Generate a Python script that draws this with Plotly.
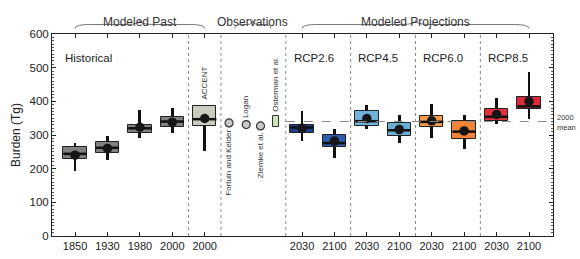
import plotly.graph_objects as go

# ---------------- data ----------------
positions = [1, 2, 3, 4, 5, 8, 9, 10, 11, 12, 13, 14, 15]
tick_labels = ["1850", "1930", "1980", "2000", "2000",
               "2030", "2100", "2030", "2100", "2030", "2100", "2030", "2100"]
q1 =     [228, 246, 306, 324, 326, 307, 265, 327, 296, 324, 287, 341, 376]
median = [244, 262, 320, 340, 347, 322, 276, 341, 314, 339, 310, 354, 385]
q3 =     [263, 279, 330, 353, 385, 331, 300, 370, 336, 356, 341, 378, 413]
low =    [193, 225, 292, 306, 253, 282, 233, 317, 277, 292, 257, 334, 349]
high =   [276, 298, 373, 380, 385, 371, 319, 390, 358, 393, 358, 411, 487]
mean =   [240, 260, 323, 338, 349, 320, 282, 349, 316, 342, 312, 361, 400]
box_colors = ["#808080", "#808080", "#808080", "#808080", "#c9cdbf",
              "#1f3f8e", "#2c5eab", "#70b4dc", "#6aaed6",
              "#f39a4c", "#f5843b", "#e3303c", "#de2a3c"]

obs_names = ["Fortuin and Kelder", "Logan", "Ziemke et al."]
obs_x = [5.75, 6.28, 6.72]
obs_val = [336, 331, 327]
obs_label_side = ["below", "above", "below"]
osterman_name = "Osterman et al."
osterman_x = 7.2
osterman_low = 324
osterman_high = 356

mean_2000 = 340

sections = ["Historical", "RCP2.6", "RCP4.5", "RCP6.0", "RCP8.5"]
section_x = [0.63, 7.68, 9.68, 11.68, 13.68]
separators = [4.5, 5.5, 7.5, 9.5, 11.5, 13.5]
groups = ["Modeled Past", "Observations", "Modeled Projections"]
group_span = [(1, 5), (5.93, 7.04), (8, 15)]

FONT = "Liberation Sans, Arial, sans-serif"
XR = [0.29, 15.74]

fig = go.Figure()

# whiskers (as thin bars so they sit behind the boxes)
fig.add_trace(go.Bar(
    x=positions, base=low, y=[h - l for h, l in zip(high, low)],
    width=0.09, marker=dict(color="#111111", line=dict(width=0)),
    hoverinfo="skip", showlegend=False))

# boxes
fig.add_trace(go.Bar(
    x=positions, base=q1, y=[b - a for a, b in zip(q1, q3)],
    width=0.72, marker=dict(color=box_colors, line=dict(color="#222222", width=1)),
    showlegend=False))

# Osterman box
fig.add_trace(go.Bar(
    x=[osterman_x], base=[osterman_low], y=[osterman_high - osterman_low],
    width=0.18, marker=dict(color="#cfe4b8", line=dict(color="#333333", width=1)),
    showlegend=False))

# medians
mx, my = [], []
for p, m in zip(positions, median):
    mx += [p - 0.36, p + 0.36, None]
    my += [m, m, None]
fig.add_trace(go.Scatter(x=mx, y=my, mode="lines",
                         line=dict(color="#111111", width=2.5),
                         hoverinfo="skip", showlegend=False))

# means
fig.add_trace(go.Scatter(x=positions, y=mean, mode="markers",
                         marker=dict(color="#161616", size=9.5),
                         showlegend=False))

# observation circles
fig.add_trace(go.Scatter(x=obs_x, y=obs_val, mode="markers",
                         marker=dict(color="#c8c8c8", size=8,
                                     line=dict(color="#333333", width=1.2)),
                         showlegend=False))

shapes = []
for s in separators:
    shapes.append(dict(type="line", xref="x", yref="paper", x0=s, x1=s, y0=0, y1=1,
                       line=dict(color="#8a8a8a", width=1, dash="dot")))
shapes.append(dict(type="line", xref="x", yref="y", x0=7.5, x1=XR[1],
                   y0=mean_2000, y1=mean_2000,
                   line=dict(color="#8a8a8a", width=1, dash="dash")))

# braces
yl, ym, yt = 1.027, 1.047, 1.067
for (a, b) in group_span:
    c = (a + b) / 2
    d = min(0.45, (b - a) / 6)
    path = (f"M {a},{yl} Q {a},{ym} {a + d},{ym} L {c - d},{ym} "
            f"Q {c},{ym} {c},{yt} Q {c},{ym} {c + d},{ym} "
            f"L {b - d},{ym} Q {b},{ym} {b},{yl}")
    shapes.append(dict(type="path", xref="x", yref="paper", path=path,
                       line=dict(color="#777777", width=1)))

annotations = []
for name, (a, b) in zip(groups, group_span):
    annotations.append(dict(x=(a + b) / 2, y=1.106, xref="x", yref="paper",
                            text=name, showarrow=False,
                            font=dict(size=12, color="#333333", family=FONT)))
for name, x in zip(sections, section_x):
    annotations.append(dict(x=x, y=0.923, xref="x", yref="paper", text=name,
                            showarrow=False, xanchor="left",
                            font=dict(size=11.5, color="#222222", family=FONT)))

small = dict(size=8, color="#333333", family=FONT)
annotations.append(dict(x=5, y=400, xref="x", yref="y", text="ACCENT",
                        textangle=-90, showarrow=False, yanchor="bottom",
                        font=small))
for name, x, v, side in zip(obs_names, obs_x, obs_val, obs_label_side):
    if side == "below":
        annotations.append(dict(x=x, y=v - 14, xref="x", yref="y", text=name,
                                textangle=-90, showarrow=False, yanchor="top",
                                font=small))
    else:
        annotations.append(dict(x=x, y=v + 14, xref="x", yref="y", text=name,
                                textangle=-90, showarrow=False, yanchor="bottom",
                                font=small))
annotations.append(dict(x=osterman_x, y=osterman_high + 6, xref="x", yref="y",
                        text=osterman_name, textangle=-90, showarrow=False,
                        yanchor="bottom", font=small))
annotations.append(dict(x=1.003, y=mean_2000 - 4, xref="paper", yref="y",
                        text="2000<br>mean", showarrow=False, xanchor="left",
                        align="left", font=dict(size=7.5, color="#333333", family=FONT)))

fig.update_layout(
    width=580, height=259,
    margin=dict(l=52, r=27, t=34, b=23, autoexpand=False),
    paper_bgcolor="white", plot_bgcolor="white",
    barmode="overlay", bargap=0,
    font=dict(family=FONT, color="#222222"),
    shapes=shapes, annotations=annotations,
    xaxis=dict(range=XR, tickmode="array", tickvals=positions, ticktext=tick_labels,
               ticks="inside", ticklen=4, tickcolor="#222222", automargin=False,
               showline=True, linecolor="#222222", linewidth=1, mirror="ticks",
               showgrid=False, zeroline=False,
               tickfont=dict(size=11, color="#222222", family=FONT)),
    yaxis=dict(range=[0, 600], tickvals=[0, 100, 200, 300, 400, 500, 600],
               ticks="inside", ticklen=4, tickcolor="#222222", automargin=False,
               showline=True, linecolor="#222222", linewidth=1, mirror="ticks",
               showgrid=False, zeroline=False,
               minor=dict(ticks="inside", ticklen=2, dtick=10, tickcolor="#555555"),
               title=dict(text="Burden (Tg)", standoff=6,
                          font=dict(size=12, color="#222222", family=FONT)),
               tickfont=dict(size=11.5, color="#222222", family=FONT)),
)

fig.write_html("out.html")
